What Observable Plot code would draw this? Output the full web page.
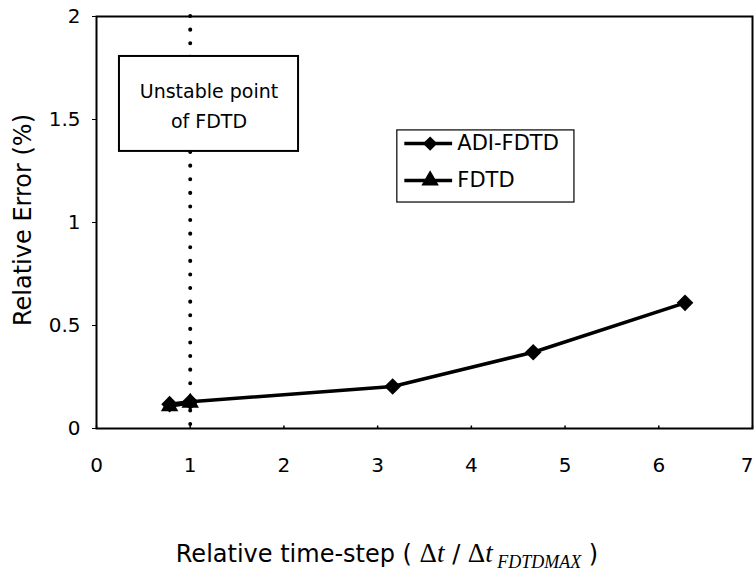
<!DOCTYPE html>
<html>
<head>
<meta charset="utf-8">
<script src="https://cdn.jsdelivr.net/npm/d3@7"></script>
<script src="https://cdn.jsdelivr.net/npm/@observablehq/plot@0.6"></script>
<style>
  body { margin: 0; background: #fff; }
</style>
</head>
<body>
<div id="chart"></div>
<script>
// Data
const adiX = [0.78, 1.0, 3.16, 4.66, 6.28];
const adiY = [0.118, 0.13, 0.204, 0.37, 0.61];
const fdtdX = [0.78, 1.0];
const fdtdY = [0.108, 0.125];
const xTicks = [0, 1, 2, 3, 4, 5, 6, 7];
const yTicks = [0, 0.5, 1, 1.5, 2];
const unstableX = [1];
const seriesNames = ["ADI-FDTD", "FDTD"];
const seriesSymbols = ["diamond2", "triangle"];
// annotation and legend boxes (data units)
const noteBox = [{x1: 0.245, x2: 2.156, y1: 1.345, y2: 1.806}];
const noteLines = ["Unstable point", "of FDTD"];
const legendBox = [{x1: 3.21, x2: 5.10, y1: 1.097, y2: 1.447}];
const legendY = [1.383, 1.204];

const FONT = "DejaVu Sans, Verdana, sans-serif";
const adi = adiX.map((x, i) => ({x, y: adiY[i]}));
const fdtd = fdtdX.map((x, i) => ({x, y: fdtdY[i]}));
const legend = seriesNames.map((name, i) => ({name, symbol: seriesSymbols[i], y: legendY[i]}));
const lb = legendBox[0], nb = noteBox[0];

const plot = Plot.plot({
  width: 756,
  height: 576,
  marginLeft: 96,
  marginRight: 4,
  marginTop: 16,
  marginBottom: 148,
  style: {fontSize: "20px", fontFamily: FONT, color: "black", background: "white"},
  x: {domain: [0, 7], label: null},
  y: {domain: [0, 2], label: null},
  symbol: {domain: seriesSymbols, range: seriesSymbols},
  marks: [
    Plot.axisX({ticks: xTicks, tickSize: 0, tickPadding: 29, tickFormat: d => String(d), fontSize: 20}),
    Plot.axisY({ticks: yTicks, tickSize: 4, tickPadding: 12, tickFormat: d => String(d), fontSize: 20}),
    Plot.ruleX(xTicks, {y1: 0, y2: 0.012, stroke: "black", strokeWidth: 1.5}),
    Plot.frame({stroke: "black", strokeWidth: 2}),
    Plot.ruleX(unstableX, {stroke: "black", strokeWidth: 4, strokeDasharray: "0.1,13.5", strokeLinecap: "round"}),
    Plot.rect(noteBox, {x1: "x1", x2: "x2", y1: "y1", y2: "y2", fill: "white", stroke: "black", strokeWidth: 2}),
    Plot.text(noteLines, {x: (nb.x1 + nb.x2) / 2, y: (nb.y1 + nb.y2) / 2,
      text: d => d, fontSize: 19, fill: "black"}),
    Plot.line(adi, {x: "x", y: "y", stroke: "black", strokeWidth: 3.5}),
    Plot.line(fdtd, {x: "x", y: "y", stroke: "black", strokeWidth: 3.5}),
    Plot.dot(adi, {x: "x", y: "y", symbol: () => "diamond2", fill: "black", r: 7.5}),
    Plot.dot(fdtd, {x: "x", y: "y", symbol: () => "triangle", fill: "black", r: 6.5}),
    Plot.rect(legendBox, {x1: "x1", x2: "x2", y1: "y1", y2: "y2", fill: "white", stroke: "black", strokeWidth: 1.2}),
    Plot.ruleY(legend, {y: "y", x1: lb.x1 + 0.08, x2: lb.x1 + 0.59, stroke: "black", strokeWidth: 3.5}),
    Plot.dot(legend, {x: lb.x1 + 0.35, y: "y", symbol: "symbol", fill: "black", r: 6.5}),
    Plot.text(legend, {x: lb.x1 + 0.64, y: "y", text: "name", textAnchor: "start", fontSize: 21, fill: "black"})
  ]
});

const svg = d3.select(plot);
document.getElementById("chart").appendChild(plot);

// two-line note
svg.selectAll("text").filter(function() { return noteLines.includes(this.textContent); })
  .each(function() {
    const i = noteLines.indexOf(this.textContent);
    d3.select(this).attr("dy", i === 0 ? "-0.62em" : "0.93em");
  });

// keep the last x tick label inside the picture
svg.selectAll("g[aria-label='x-axis tick label'] text").filter(function() { return this.textContent === "7"; })
  .attr("text-anchor", "end").attr("dx", 1);

// Axis titles
svg.append("text")
  .attr("transform", "translate(23,220) rotate(-90)")
  .attr("text-anchor", "middle")
  .attr("dy", "0.35em")
  .attr("font-family", FONT)
  .attr("font-size", 24)
  .attr("fill", "black")
  .text("Relative Error (%)");

const SERIF = "Liberation Serif, Times New Roman, serif";
const xt = svg.append("text")
  .attr("x", 387)
  .attr("y", 562)
  .attr("text-anchor", "middle")
  .attr("font-family", FONT)
  .attr("font-size", 24)
  .attr("fill", "black");
xt.append("tspan").text("Relative time-step ( ");
xt.append("tspan").attr("font-family", SERIF).attr("font-size", 27).text("Δ");
xt.append("tspan").attr("font-family", SERIF).attr("font-size", 27).attr("font-style", "italic").text("t");
xt.append("tspan").text(" / ");
xt.append("tspan").attr("font-family", SERIF).attr("font-size", 27).text("Δ");
xt.append("tspan").attr("font-family", SERIF).attr("font-size", 27).attr("font-style", "italic").text("t");
xt.append("tspan").attr("font-family", SERIF).attr("font-style", "italic")
  .attr("font-size", 18).attr("dy", 6).text(" FDTDMAX");
xt.append("tspan").attr("dy", -6).text(" )");
</script>
</body>
</html>
